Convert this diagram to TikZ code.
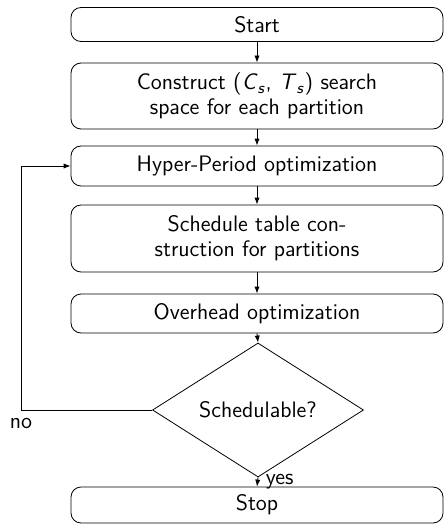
\documentclass[tikz,border=0pt]{standalone}
\usepackage{fontspec}
\usetikzlibrary{shapes.geometric,arrows.meta}
\begin{document}
\begin{tikzpicture}[x=0.5pt,y=-0.5pt,
  txt/.style={font=\sffamily\fontsize{11.2pt}{12.5pt}\selectfont},
  stepbox/.style={txt, draw, rounded corners=5pt, minimum width=186pt, align=center,
    inner sep=0pt},
  decision/.style={txt, diamond, draw, minimum width=105.5pt,
    minimum height=52.5pt, inner sep=0pt},
  flow/.style={-{Latex[length=3.5pt,width=2.6pt]}},
  lbl/.style={txt, inner sep=1pt}]
\useasboundingbox (0,0) rectangle (444,524);

% process steps
\node[stepbox, minimum height=17pt] (start) at (257,24.5) {Start};
\node[stepbox, minimum height=33pt] (cons) at (257,96)
  {Construct (\textit{C}\textsubscript{\textit{s}}, \textit{T}\textsubscript{\textit{s}}) search\\space for each partition};
\node[stepbox, minimum height=20pt] (hyper) at (257,166) {Hyper-Period optimization};
\node[stepbox, minimum height=33.5pt] (sched) at (257,238.5)
  {Schedule table con-\\struction for partitions};
\node[stepbox, minimum height=19.5pt] (over) at (257,313.5) {Overhead optimization};
\node[decision] (test) at (258,410) {Schedulable?};
\node[stepbox, minimum height=18pt] (stop) at (257,505) {Stop};

% main flow
\draw[flow] (start) -- (cons);
\draw[flow] (cons) -- (hyper);
\draw[flow] (hyper) -- (sched);
\draw[flow] (sched) -- (over);
\draw[flow] (over.south) -- (test.north);
\draw[flow] (test.south) -- node[lbl, right=3pt] {yes} (stop.north);

% loop back when not schedulable
\coordinate (corner) at (21,410);
\draw[flow] (test.west) -- (corner) |- (hyper.west);
\node[lbl, anchor=north] (no) at (corner) [yshift=-3pt] {no};
\end{tikzpicture}
\end{document}
